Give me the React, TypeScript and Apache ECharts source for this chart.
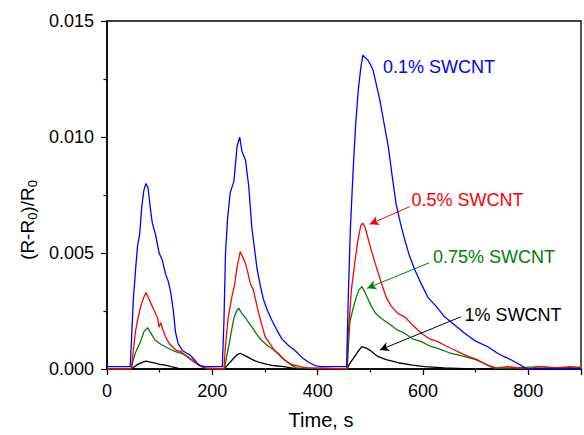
import React, { useEffect, useRef } from "react";
import * as echarts from "echarts";

const FONT = "'Liberation Sans', Arial, sans-serif";

const seriesNames = ["0.1% SWCNT", "0.5% SWCNT", "0.75% SWCNT", "1% SWCNT"];
const seriesColors = ["#0000ff", "#ff0000", "#008000", "#000000"];

const xTickLabels = [0, 200, 400, 600, 800];
const yTickLabels = [0, 0.005, 0.01, 0.015];

const blue: number[][] = [
  [0, 0.0001], [44, 0.0001], [47, 0.0015], [50, 0.003], [55, 0.0045], [58, 0.0053], [62, 0.0058], [66, 0.007], [70, 0.0077], [74, 0.008],
  [78, 0.0078], [83, 0.0068], [86, 0.0063], [92, 0.0058], [99, 0.005], [105, 0.0047], [111, 0.0041], [116, 0.0038], [121, 0.0033],
  [126, 0.0025], [130, 0.0016], [135, 0.0011], [143, 0.0008], [150, 0.0007], [158, 0.0006], [166, 0.0004], [174, 0.00017], [185, 0.0001],
  [219, 0.0001], [222, 0.002], [225, 0.005], [229, 0.0065], [234, 0.0076], [241, 0.0081], [247, 0.0096], [252, 0.01], [256, 0.0094],
  [263, 0.009], [269, 0.0079], [275, 0.0061], [280, 0.0052], [285, 0.0043], [291, 0.0036], [297, 0.003], [305, 0.0025], [313, 0.0021],
  [322, 0.0017], [332, 0.0013], [345, 0.001], [357, 0.0008], [370, 0.0005], [382, 0.0003], [395, 0.00015], [405, 0.0001],
  [455, 0.0001], [458, 0.003], [462, 0.006], [467, 0.0084], [472, 0.0105], [477, 0.012], [482, 0.013], [486, 0.01353], [491, 0.0134],
  [496, 0.0133], [505, 0.0129], [511, 0.0123], [518, 0.0116], [526, 0.0106], [534, 0.0096], [541, 0.0084], [549, 0.0071], [557, 0.0063],
  [565, 0.0056], [574, 0.0049], [584, 0.0043], [596, 0.0037], [609, 0.0031], [625, 0.0027], [641, 0.00225], [660, 0.0019], [679, 0.00154],
  [700, 0.0012], [723, 0.00096], [740, 0.0007], [754, 0.00053], [767, 0.0004], [779, 0.00025], [790, 0.0001], [798, 0], [900, 0],
];

const red: number[][] = [
  [0, 0], [46, 0], [50, 0.0008], [54, 0.0016], [58, 0.0021], [64, 0.0027], [70, 0.0031], [74, 0.0033], [78, 0.0031], [82, 0.0029],
  [86, 0.0027], [92, 0.0024], [96, 0.0022], [99, 0.0018], [102, 0.002], [106, 0.0017], [111, 0.0014], [118, 0.0011], [124, 0.00096],
  [132, 0.0008], [140, 0.00075], [148, 0.0006], [155, 0.00047], [165, 0.0003], [174, 0.00017], [185, 0.00005],
  [222, 0], [225, 0.001], [230, 0.0022], [237, 0.0031], [242, 0.0036], [247, 0.0044], [253, 0.00506], [258, 0.0048], [263, 0.00455],
  [268, 0.0041], [272, 0.0037], [278, 0.0034], [283, 0.0029], [288, 0.0024], [294, 0.0019], [300, 0.0014], [309, 0.0011], [318, 0.0008],
  [327, 0.0006], [336, 0.0004], [350, 0.0002], [367, 0.0001], [380, 0.00005],
  [455, 0], [458, 0.0015], [464, 0.0034], [470, 0.0045], [476, 0.0055], [482, 0.0062], [486, 0.00628], [490, 0.0061], [496, 0.0056],
  [502, 0.0051], [510, 0.0045], [521, 0.0037], [530, 0.0031], [540, 0.0027], [552, 0.0024], [565, 0.00225], [580, 0.0019], [597, 0.00154],
  [612, 0.0013], [628, 0.00118], [645, 0.00098], [660, 0.00082], [680, 0.0006], [704, 0.00039], [720, 0.0002], [735, 0.00003],
  [760, 0.0001], [800, 0], [820, 0.0001], [850, 0.00005], [880, 0.0001], [900, 0.00005],
];

const green: number[][] = [
  [0, 0], [46, 0], [50, 0.0004], [54, 0.0007], [58, 0.0009], [64, 0.0012], [70, 0.0016], [77, 0.00178], [82, 0.0016], [91, 0.00125],
  [100, 0.0011], [111, 0.00096], [120, 0.00085], [130, 0.00075], [140, 0.00068], [149, 0.0006], [158, 0.00045], [168, 0.0003],
  [180, 0.0001], [190, 0],
  [223, 0], [227, 0.0005], [231, 0.00096], [236, 0.0016], [241, 0.0022], [246, 0.0025], [250, 0.00262], [256, 0.0024], [263, 0.0022],
  [269, 0.002], [275, 0.00182], [284, 0.0015], [293, 0.00125], [305, 0.001], [315, 0.00085], [325, 0.00068], [337, 0.0004],
  [350, 0.00017], [360, 0.00005],
  [456, 0], [458, 0.0008], [461, 0.002], [466, 0.0025], [472, 0.003], [478, 0.0034], [484, 0.00355], [490, 0.0033], [496, 0.003],
  [502, 0.0027], [510, 0.0024], [520, 0.0022], [534, 0.00197], [550, 0.0017], [565, 0.00154], [580, 0.0013], [597, 0.00118],
  [612, 0.001], [628, 0.00089], [650, 0.0007], [679, 0.00053], [700, 0.0004], [723, 0.00017], [742, 0.00003], [780, 0.00005],
  [820, 0.0001], [860, 0.00005], [900, 0.00008],
];

const black: number[][] = [
  [0, 0], [46, 0], [52, 0.0001], [60, 0.00022], [68, 0.0003], [74, 0.00034], [82, 0.0003], [92, 0.00025], [100, 0.0002], [111, 0.00017],
  [122, 0.0001], [136, 0.00003], [150, 0],
  [223, 0], [230, 0.0002], [238, 0.0004], [246, 0.0006], [253, 0.00068], [260, 0.0006], [270, 0.00048], [280, 0.00036], [288, 0.0003],
  [300, 0.00022], [315, 0.00015], [336, 0.0001], [355, 0.00003], [370, 0],
  [456, 0], [460, 0.0002], [466, 0.0004], [472, 0.0006], [478, 0.0008], [484, 0.00096], [492, 0.0009], [500, 0.0008], [508, 0.00065],
  [515, 0.00053], [530, 0.0004], [553, 0.00027], [580, 0.00017], [603, 0.0001], [640, 0.00005], [680, 0.00002], [720, 0], [900, 0],
];

const seriesData = [blue, red, green, black];

// annotation label anchors (data coords) and arrows [from, to]
const labelAnchors: number[][] = [[524, 0.01303], [578, 0.00728], [619, 0.00483], [679, 0.00233]];
const arrows: (number[][] | null)[] = [
  null,
  [[575, 0.007], [499, 0.00624]],
  [[612, 0.00458], [494, 0.00348]],
  [[672, 0.00225], [518, 0.00082]],
];

export default function App() {
  const ref = useRef<HTMLDivElement>(null);
  useEffect(() => {
    if (!ref.current) return;
    const chart = echarts.init(ref.current, undefined, { renderer: "svg" });
    const axisLineStyle = { color: "#000", width: 1.5 };
    const drawOrder = [3, 2, 1, 0];
    const series = drawOrder.map((i) => ({
      type: "line",
      name: seriesNames[i],
      data: seriesData[i],
      showSymbol: false,
      symbol: "none",
      lineStyle: { color: seriesColors[i], width: 1.3 },
      itemStyle: { color: seriesColors[i] },
      z: 2 + (3 - i),
      silent: true,
      markPoint: {
        symbol: "circle",
        symbolSize: 0,
        silent: true,
        data: [{ coord: labelAnchors[i], value: 0 }],
        label: {
          show: true,
          position: "right",
          distance: 0,
          formatter: seriesNames[i],
          color: seriesColors[i],
          fontSize: 18,
          fontFamily: FONT,
        },
      },
      markLine: arrows[i]
        ? {
            silent: true,
            symbol: ["none", "arrow"],
            symbolSize: [7, 9],
            label: { show: false },
            lineStyle: { color: seriesColors[i], width: 1, type: "solid" },
            data: [[{ coord: arrows[i]![0] }, { coord: arrows[i]![1] }]],
          }
        : undefined,
    }));

    chart.setOption({
      animation: false,
      backgroundColor: "#fff",
      grid: { left: 107, right: 1, top: 21, bottom: 66, show: true, borderColor: "#000", borderWidth: 1.3, backgroundColor: "transparent" },
      graphic: [
        {
          type: "text",
          x: 27,
          y: 220,
          rotation: Math.PI / 2,
          silent: true,
          style: {
            text: "{a|(R-R}{s|0}{a|)/R}{s|0}",
            align: "center",
            verticalAlign: "middle",
            fill: "#000",
            font: `19px ${FONT}`,
            rich: {
              a: { fontSize: 19, fill: "#000", fontFamily: FONT, lineHeight: 24 },
              s: { fontSize: 13, fill: "#000", fontFamily: FONT, lineHeight: 14, verticalAlign: "bottom" },
            },
          },
        },
      ],
      xAxis: [
        {
          type: "value",
          position: "bottom",
          min: 0,
          max: 900,
          interval: 100,
          axisLine: { show: true, lineStyle: axisLineStyle },
          axisTick: { show: true, length: 3.5, lineStyle: { color: "#000", width: 1.2 } },
          axisLabel: { show: false },
          splitLine: { show: false },
          name: "Time, s",
          nameLocation: "middle",
          nameGap: 41,
          nameTextStyle: { fontSize: 20, color: "#000", fontFamily: FONT, padding: [0, 46, 0, 0] },
        },
        {
          type: "value",
          position: "bottom",
          min: 0,
          max: 900,
          interval: 200,
          axisLine: { show: false },
          axisTick: { show: true, length: 6, lineStyle: { color: "#000", width: 1.2 } },
          axisLabel: {
            margin: 13,
            fontSize: 18,
            color: "#000",
            fontFamily: FONT,
            formatter: (v: number) => (xTickLabels.includes(v) ? String(v) : ""),
          },
          splitLine: { show: false },
        },
      ],
      yAxis: {
        type: "value",
        min: 0,
        max: 0.015,
        interval: 0.005,
        axisLine: { show: true, lineStyle: axisLineStyle },
        axisTick: { show: true, length: 6, lineStyle: { color: "#000", width: 1.2 } },
        minorTick: { show: true, splitNumber: 2, length: 3.5, lineStyle: { color: "#000", width: 1.2 } },
        axisLabel: {
          margin: 13,
          fontSize: 18,
          color: "#000",
          fontFamily: FONT,
          formatter: (v: number) => {
            const m = yTickLabels.find((t) => Math.abs(t - v) < 1e-9);
            return m === undefined ? "" : m.toFixed(3);
          },
        },
        splitLine: { show: false },
        minorSplitLine: { show: false },
      },
      series,
    });
    return () => chart.dispose();
  }, []);
  return <div ref={ref} style={{ position: "fixed", left: 0, top: 0, width: 584, height: 435 }} />;
}
